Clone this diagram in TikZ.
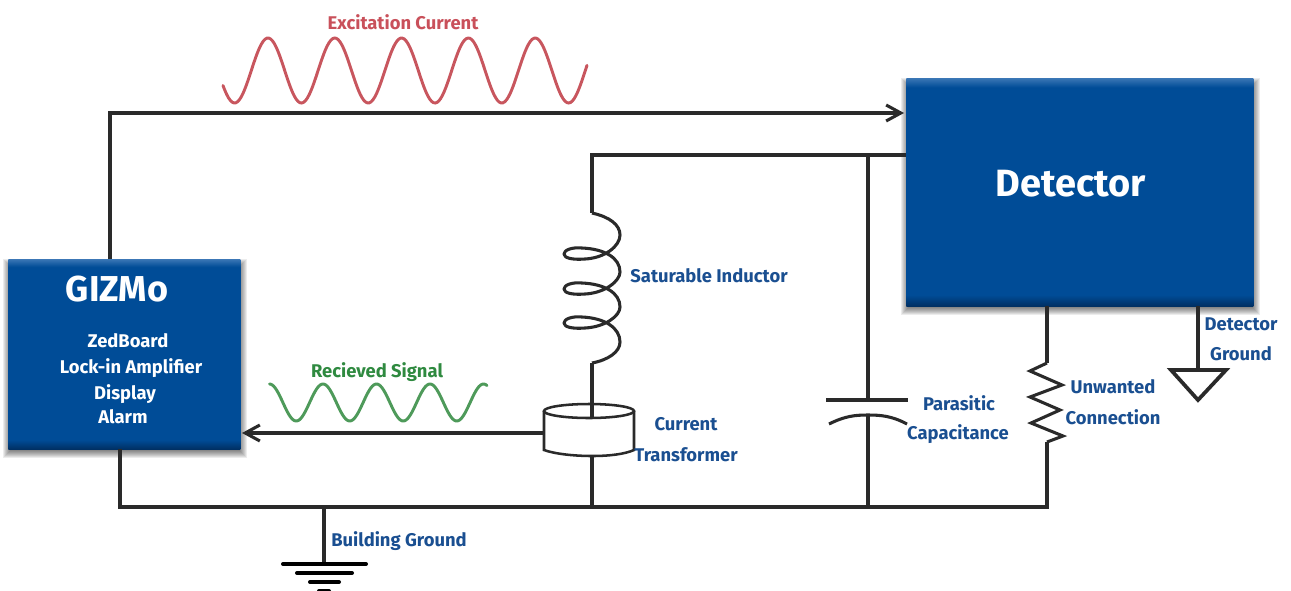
\documentclass[tikz,border=0pt]{standalone}
\usepackage{fontspec}
\setmainfont{Fira Sans}[BoldFont={Fira Sans Bold}]
\usetikzlibrary{arrows.meta,calc}
\definecolor{boxblue}{HTML}{004C97}
\definecolor{boxdark}{HTML}{002F62}
\definecolor{boxlight}{HTML}{3A76B5}
\definecolor{labelblue}{HTML}{1A4F91}
\definecolor{wire}{HTML}{2A2A2A}
\definecolor{sigred}{HTML}{C8565E}
\definecolor{siggreen}{HTML}{4E9A5A}
\definecolor{textred}{HTML}{C9505A}
\definecolor{textgreen}{HTML}{2F8A40}
\pgfdeclareverticalshading{boxshade}{100bp}{color(0bp)=(boxdark); color(25bp)=(boxdark); color(27.5bp)=(boxblue); color(73bp)=(boxblue); color(75bp)=(boxlight); color(100bp)=(boxlight)}
\tikzset{
  x=0.75pt, y=-0.75pt,
  wireline/.style={draw=wire, line width=2.3pt, line join=miter},
  thinwire/.style={draw=wire, line width=1.9pt},
  arrowline/.style={draw=wire, line width=2.3pt, line join=miter, -{Straight Barb[length=11pt,width=12pt]}},
  bluebox/.style={shading=boxshade, minimum width=0pt, inner sep=0pt, anchor=north west},
  lab/.style={font=\bfseries\fontsize{13.8pt}{15pt}\selectfont, text=labelblue, inner sep=0pt},
  boxtext/.style={font=\bfseries\fontsize{13.8pt}{15pt}\selectfont, text=white, inner sep=0pt},
  boxtitle/.style={font=\bfseries\fontsize{27pt}{29pt}\selectfont, text=white, inner sep=0pt},
  gbar/.style={draw=black, line width=3pt, line cap=round},
  sigwave/.style={line width=2.2pt, line cap=round, smooth},
}
\begin{document}
\begin{tikzpicture}
\useasboundingbox (0,0) rectangle (1291,590);
\fill[white] (0,0) rectangle (1291,590);

% soft shadows
\foreach \g in {1,2,...,8}{
  \fill[black,opacity=0.075] ($(8,259)+(3-\g,8-\g)$) rectangle ($(240,449)+(\g-1,\g+1)$);
  \fill[black,opacity=0.075] ($(906,78)+(3-\g,8-\g)$) rectangle ($(1253,306)+(\g-1,\g+1)$);
}

% boxes
\node[bluebox, minimum width=174pt, minimum height=142.5pt] (gizmo) at (8,259) {};
\node[bluebox, minimum width=260.25pt, minimum height=171pt] (detector) at (906,78) {};

% named junctions
\coordinate (gizTop) at (110,259);
\coordinate (corner1) at (110,113);
\coordinate (detIn) at (904,113);
\coordinate (detOut) at (906,155);
\coordinate (coilTop) at (592,155);
\coordinate (coilA) at (592,213);
\coordinate (coilB) at (592,363);
\coordinate (ctTop) at (592,418);
\coordinate (ctBot) at (592,456);
\coordinate (ctLeft) at (544,433);
\coordinate (gizIn) at (242,433);
\coordinate (gizBot) at (120,449);
\coordinate (busL) at (120,507);
\coordinate (busC) at (592,507);
\coordinate (busCap) at (868,507);
\coordinate (busR) at (1047,507);
\coordinate (busG) at (324,507);
\coordinate (capTop) at (868,155);
\coordinate (capU) at (868,400);
\coordinate (capL) at (868,415);
\coordinate (resTopBox) at (1047,306);
\coordinate (resA) at (1047,363);
\coordinate (resB) at (1047,442);
\coordinate (dgTop) at (1198,306);
\coordinate (dgTri) at (1198,370);
\coordinate (bgBar) at (324,564);

% excitation and received waves
\draw[sigwave, sigred, domain=223:587, samples=200] plot (\x,{70.5-32.5*cos(5.38922*(\x-268))});
\draw[sigwave, siggreen, domain=269.5:487, samples=160] plot (\x,{402.5-18.5*cos(6.72897*(\x-323))});

% connectors
\draw[arrowline] (gizTop) -- (corner1) -- (detIn);
\draw[wireline] (detOut) -- (coilTop) -- (coilA);
\draw[wireline] (capTop) -- (capU);
\draw[wireline] (capL) -- (busCap);
\draw[wireline] (gizBot) -- (busL) -- (busR) -- (resB);
\draw[wireline] (resTopBox) -- (resA);
\draw[wireline] (coilB) -- (ctTop);
\draw[wireline] (ctBot) -- (busC);
\draw[arrowline] (ctLeft) -- (gizIn);
\draw[wireline, line width=2.8pt] (dgTop) -- (dgTri);
\draw[wireline, line width=2.8pt] (busG) -- (bgBar);

% saturable inductor
\draw[wireline, line join=round]
  (coilA) .. controls (610,217) and (620,225) .. (620,235)
  .. controls (620,246) and (605,258) .. (585,259)
  .. controls (572,260) and (564,258) .. (564,254)
  .. controls (564,250) and (572,247) .. (582,248)
  .. controls (605,249) and (620,258) .. (620,272)
  .. controls (620,281) and (605,293) .. (585,294)
  .. controls (572,295) and (564,293) .. (564,289)
  .. controls (564,285) and (572,282) .. (582,283)
  .. controls (605,284) and (620,293) .. (620,307)
  .. controls (620,316) and (605,327) .. (585,328)
  .. controls (572,329) and (564,327) .. (564,323)
  .. controls (564,319) and (572,316) .. (582,317)
  .. controls (605,318) and (620,328) .. (620,342)
  .. controls (620,352) and (608,360) .. (coilB);

% current transformer
\draw[thinwire] (544,411) -- (544,450)
  .. controls (555,454) and (575,456) .. (ctBot)
  .. controls (610,456) and (625,454) .. (634,450) -- (634,411);
\draw[thinwire] (589,411) ellipse [x radius=45, y radius=7];

% capacitor plates
\draw[wireline] (826,400) -- (capU) -- (908,400);
\draw[wireline] (829,424) .. controls (845,416) and (855,415) .. (capL) .. controls (881,415) and (892,416) .. (907,424);

% resistor
\draw[wireline, line join=miter] (resA) -- (1030,371) -- (1062,385) -- (1030,397) -- (1060,410) -- (1031,423) -- (1063,436) -- (resB);

% detector ground
\draw[wireline, line width=2.8pt, line join=miter] (1171,370) -- (1226,370) -- (1198,400) -- cycle;

% building ground
\draw[gbar] (283,564) -- (bgBar) -- (366,564);
\draw[gbar] (297,573) -- (352,573);
\draw[gbar] (310,582) -- (339,582);
\draw[gbar] (319,591) -- (329,591);

% labels
\node[boxtitle] (tGizmo) at (117,289) {GIZMo};
\node[boxtext] (tZed) at (128,341) {ZedBoard};
\node[boxtext] (tLock) at (131,368) {Lock-in Amplifier};
\node[boxtext] (tDisp) at (125,394) {Display};
\node[boxtext] (tAlarm) at (123,417) {Alarm};
\node[boxtitle, font=\bfseries\fontsize{28.5pt}{30pt}\selectfont] (tDet) at (1071,184) {Detector};
\node[lab, text=textred] (tExc) at (403,22) {Excitation Current};
\node[lab, text=textgreen] (tRec) at (377,372) {Recieved Signal};
\node[lab] (tSat) at (709,276) {Saturable Inductor};
\node[lab] (tCur) at (686,424) {Current};
\node[lab] (tTra) at (686,455) {Transformer};
\node[lab] (tPar) at (959,403) {Parasitic};
\node[lab] (tCap) at (958,434) {Capacitance};
\node[lab] (tUnw) at (1113,387) {Unwanted};
\node[lab] (tCon) at (1113,417) {Connection};
\node[lab] (tDG1) at (1241,324) {Detector};
\node[lab] (tDG2) at (1241,354) {Ground};
\node[lab] (tBG) at (399,541) {Building Ground};
\end{tikzpicture}
\end{document}
